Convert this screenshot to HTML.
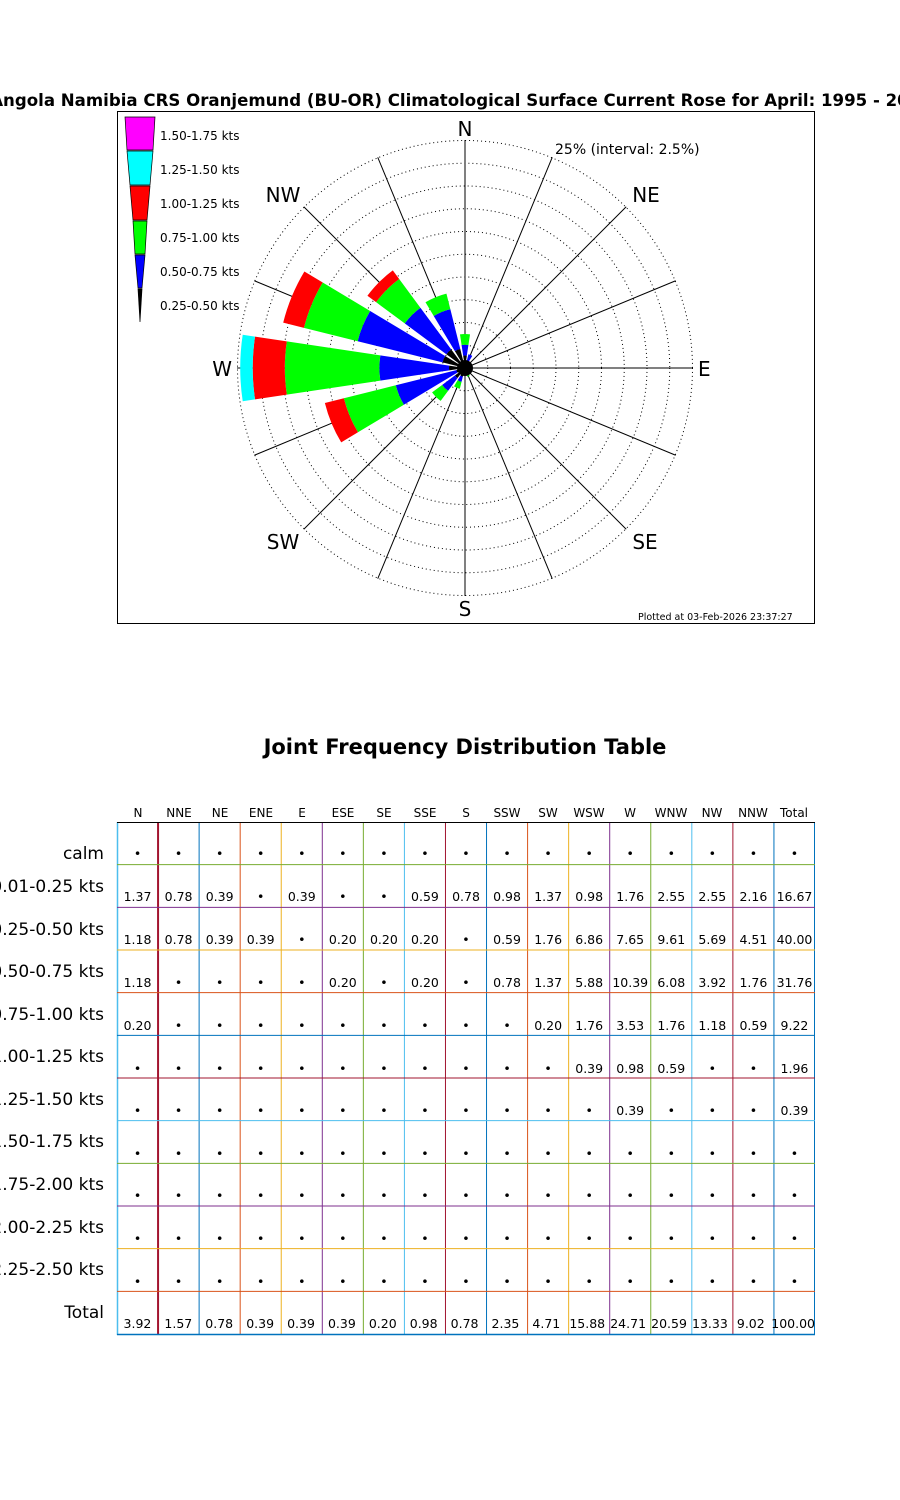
<!DOCTYPE html>
<html><head><meta charset="utf-8"><style>
html,body{margin:0;padding:0;background:#fff;width:900px;height:1500px;overflow:hidden;position:relative;font-family:"DejaVu Sans","Liberation Sans",sans-serif;}
svg{position:absolute;left:0;top:0}
.tbl{position:absolute;left:117px;top:0;width:698px}
.r{position:absolute;left:0;width:698px;height:43px;display:grid;grid-template-columns:repeat(17,1fr);font-size:12.5px;}
.r span{display:flex;align-items:flex-end;justify-content:center;padding-bottom:4px;box-sizing:border-box;height:43px}
.lab{position:absolute;right:796px;font-size:17px;white-space:nowrap;text-align:right}
</style></head><body>
<svg width="900" height="1500" id="s" xmlns="http://www.w3.org/2000/svg" font-family="DejaVu Sans, Liberation Sans, sans-serif">
<text x="461" y="106" text-anchor="middle" font-size="16.6" font-weight="bold">Angola Namibia CRS Oranjemund (BU-OR) Climatological Surface Current Rose for April: 1995 - 2025</text>
<rect x="117.5" y="111.5" width="697" height="512" fill="none" stroke="#000" stroke-width="1"/>
<g id="rings"></g>
<g id="petals"></g>
<g font-size="20">
<text x="465" y="136" text-anchor="middle">N</text>
<text x="646" y="202" text-anchor="middle">NE</text>
<text x="698" y="376">E</text>
<text x="645" y="549" text-anchor="middle">SE</text>
<text x="465" y="616" text-anchor="middle">S</text>
<text x="283" y="549" text-anchor="middle">SW</text>
<text x="232" y="376" text-anchor="end">W</text>
<text x="283" y="202" text-anchor="middle">NW</text>
</g>
<text x="555" y="154" font-size="14">25% (interval: 2.5%)</text>
<text x="638" y="620" font-size="9.5">Plotted at 03-Feb-2026 23:37:27</text>
<g stroke="#000" stroke-width="0.7">
<path d="M125,117 L155,117 L153,150 L127,150 Z" fill="#ff00ff"/>
<path d="M127,151 L153,151 L150,185 L130,185 Z" fill="#00ffff"/>
<path d="M130,186 L150,186 L147,220 L133,220 Z" fill="#ff0000"/>
<path d="M133,221 L147,221 L145,254 L135,254 Z" fill="#00ff00"/>
<path d="M135,255 L145,255 L142,288 L138,288 Z" fill="#0000ff"/>
<path d="M138,289 L142,289 L140,322 Z" fill="#000"/>
</g>
<g font-size="12">
<text x="160" y="140">1.50-1.75 kts</text>
<text x="160" y="174">1.25-1.50 kts</text>
<text x="160" y="208">1.00-1.25 kts</text>
<text x="160" y="242">0.75-1.00 kts</text>
<text x="160" y="276">0.50-0.75 kts</text>
<text x="160" y="310">0.25-0.50 kts</text>
</g>
<text x="465" y="754" text-anchor="middle" font-size="21" font-weight="bold">Joint Frequency Distribution Table</text>
<g font-size="12" text-anchor="middle" id="hdr">
<text x="138" y="817">N</text><text x="179" y="817">NNE</text><text x="220" y="817">NE</text><text x="261" y="817">ENE</text><text x="302" y="817">E</text><text x="343" y="817">ESE</text><text x="384" y="817">SE</text><text x="425" y="817">SSE</text><text x="466" y="817">S</text><text x="507" y="817">SSW</text><text x="548" y="817">SW</text><text x="589" y="817">WSW</text><text x="630" y="817">W</text><text x="671" y="817">WNW</text><text x="712" y="817">NW</text><text x="753" y="817">NNW</text><text x="794" y="817">Total</text>
</g>
<g id="grid"></g>
</svg>

<div class="lab" style="top:844px">calm</div>
<div class="lab" style="top:877px">0.01-0.25 kts</div>
<div class="lab" style="top:920px">0.25-0.50 kts</div>
<div class="lab" style="top:962px">0.50-0.75 kts</div>
<div class="lab" style="top:1005px">0.75-1.00 kts</div>
<div class="lab" style="top:1047px">1.00-1.25 kts</div>
<div class="lab" style="top:1090px">1.25-1.50 kts</div>
<div class="lab" style="top:1132px">1.50-1.75 kts</div>
<div class="lab" style="top:1175px">1.75-2.00 kts</div>
<div class="lab" style="top:1218px">2.00-2.25 kts</div>
<div class="lab" style="top:1260px">2.25-2.50 kts</div>
<div class="lab" style="top:1303px">Total</div>

<div class="tbl">
<div class="r" style="top:822px"><span>•</span><span>•</span><span>•</span><span>•</span><span>•</span><span>•</span><span>•</span><span>•</span><span>•</span><span>•</span><span>•</span><span>•</span><span>•</span><span>•</span><span>•</span><span>•</span><span>•</span></div>
<div class="r" style="top:865px"><span>1.37</span><span>0.78</span><span>0.39</span><span>•</span><span>0.39</span><span>•</span><span>•</span><span>0.59</span><span>0.78</span><span>0.98</span><span>1.37</span><span>0.98</span><span>1.76</span><span>2.55</span><span>2.55</span><span>2.16</span><span>16.67</span></div>
<div class="r" style="top:908px"><span>1.18</span><span>0.78</span><span>0.39</span><span>0.39</span><span>•</span><span>0.20</span><span>0.20</span><span>0.20</span><span>•</span><span>0.59</span><span>1.76</span><span>6.86</span><span>7.65</span><span>9.61</span><span>5.69</span><span>4.51</span><span>40.00</span></div>
<div class="r" style="top:951px"><span>1.18</span><span>•</span><span>•</span><span>•</span><span>•</span><span>0.20</span><span>•</span><span>0.20</span><span>•</span><span>0.78</span><span>1.37</span><span>5.88</span><span>10.39</span><span>6.08</span><span>3.92</span><span>1.76</span><span>31.76</span></div>
<div class="r" style="top:994px"><span>0.20</span><span>•</span><span>•</span><span>•</span><span>•</span><span>•</span><span>•</span><span>•</span><span>•</span><span>•</span><span>0.20</span><span>1.76</span><span>3.53</span><span>1.76</span><span>1.18</span><span>0.59</span><span>9.22</span></div>
<div class="r" style="top:1037px"><span>•</span><span>•</span><span>•</span><span>•</span><span>•</span><span>•</span><span>•</span><span>•</span><span>•</span><span>•</span><span>•</span><span>0.39</span><span>0.98</span><span>0.59</span><span>•</span><span>•</span><span>1.96</span></div>
<div class="r" style="top:1079px"><span>•</span><span>•</span><span>•</span><span>•</span><span>•</span><span>•</span><span>•</span><span>•</span><span>•</span><span>•</span><span>•</span><span>•</span><span>0.39</span><span>•</span><span>•</span><span>•</span><span>0.39</span></div>
<div class="r" style="top:1122px"><span>•</span><span>•</span><span>•</span><span>•</span><span>•</span><span>•</span><span>•</span><span>•</span><span>•</span><span>•</span><span>•</span><span>•</span><span>•</span><span>•</span><span>•</span><span>•</span><span>•</span></div>
<div class="r" style="top:1164px"><span>•</span><span>•</span><span>•</span><span>•</span><span>•</span><span>•</span><span>•</span><span>•</span><span>•</span><span>•</span><span>•</span><span>•</span><span>•</span><span>•</span><span>•</span><span>•</span><span>•</span></div>
<div class="r" style="top:1207px"><span>•</span><span>•</span><span>•</span><span>•</span><span>•</span><span>•</span><span>•</span><span>•</span><span>•</span><span>•</span><span>•</span><span>•</span><span>•</span><span>•</span><span>•</span><span>•</span><span>•</span></div>
<div class="r" style="top:1250px"><span>•</span><span>•</span><span>•</span><span>•</span><span>•</span><span>•</span><span>•</span><span>•</span><span>•</span><span>•</span><span>•</span><span>•</span><span>•</span><span>•</span><span>•</span><span>•</span><span>•</span></div>
<div class="r" style="top:1292px"><span>3.92</span><span>1.57</span><span>0.78</span><span>0.39</span><span>0.39</span><span>0.39</span><span>0.20</span><span>0.98</span><span>0.78</span><span>2.35</span><span>4.71</span><span>15.88</span><span>24.71</span><span>20.59</span><span>13.33</span><span>9.02</span><span>100.00</span></div>
</div>

<script>
(function(){
var NS="http://www.w3.org/2000/svg";
function el(p,t,a){var e=document.createElementNS(NS,t);for(var k in a)e.setAttribute(k,a[k]);p.appendChild(e);return e;}
var cx=465,cy=368,sc=9.1;
var rings=document.getElementById("rings");
for(var i=1;i<=10;i++)el(rings,"circle",{cx:cx,cy:cy,r:22.75*i,fill:"none",stroke:"#000","stroke-width":1,"stroke-dasharray":"1 3"});
for(var k=0;k<16;k++){var a=k*22.5*Math.PI/180;el(rings,"line",{x1:cx,y1:cy,x2:cx+228*Math.sin(a),y2:cy-228*Math.cos(a),stroke:"#000","stroke-width":1});}
var K="#000",B="#0000ff",G="#00ff00",R="#ff0000",C="#00ffff";
var data=[
[[1.37,K],[1.18,B],[1.18,G]],
[[.78,K],[.78,B]],
[[.39,K],[.39,B]],
[[.39,B]],
[[.39,K]],
[[.2,B],[.2,G]],
[[.2,B]],
[[.59,K],[.2,B],[.2,G]],
[[.78,K]],
[[.98,K],[.59,B],[.78,G]],
[[1.37,K],[1.76,B],[1.37,G]],
[[.98,K],[6.86,B],[5.88,G],[2.15,R]],
[[1.76,K],[7.65,B],[10.39,G],[3.53,R],[1.37,C]],
[[2.55,K],[9.61,B],[6.08,G],[2.35,R]],
[[2.55,K],[5.69,B],[3.92,G],[1.18,R]],
[[2.16,K],[4.51,B],[1.76,G]]];
var pg=document.getElementById("petals");var w=8.5*Math.PI/180;
function pt(r,a){return (cx+r*Math.sin(a)).toFixed(2)+","+(cy-r*Math.cos(a)).toFixed(2);}
for(var k=0;k<16;k++){var a=k*22.5*Math.PI/180,c=0;
 for(var j=0;j<data[k].length;j++){var v=data[k][j][0];var r0=c*sc,r1=(c+v)*sc;c+=v;
  var d="M"+pt(r0,a-w)+" L"+pt(r1,a-w)+" A"+r1+","+r1+" 0 0 1 "+pt(r1,a+w)+" L"+pt(r0,a+w)+(r0>0?" A"+r0+","+r0+" 0 0 0 "+pt(r0,a-w):"")+" Z";
  el(pg,"path",{d:d,fill:data[k][j][1]});}}
el(pg,"circle",{cx:cx,cy:cy,r:8,fill:"#000"});
var g=document.getElementById("grid");
var Cc=["#0072BD","#D95319","#EDB120","#7E2F8E","#77AC30","#4DBEEE","#A2142F"];
var cw=698/17;
for(var i=1;i<17;i++){var col=Cc[(i+5)%7];var x=117+cw*i;el(g,"line",{x1:x,y1:822,x2:x,y2:1335,stroke:col,"stroke-width":i==1?2:1});}
el(g,"line",{x1:117.5,y1:822,x2:117.5,y2:1335,stroke:"#4DBEEE","stroke-width":1.5});
el(g,"line",{x1:814.5,y1:822,x2:814.5,y2:1335,stroke:"#0072BD","stroke-width":1});
el(g,"line",{x1:117,y1:822.5,x2:815,y2:822.5,stroke:"#000","stroke-width":1});
el(g,"line",{x1:117,y1:1334.5,x2:815,y2:1334.5,stroke:"#0072BD","stroke-width":1.5});
var hs=["#77AC30","#7E2F8E","#EDB120","#D95319","#0072BD","#A2142F","#4DBEEE"];
for(var i=1;i<12;i++){var y=822+i*(512/12);el(g,"line",{x1:117,y1:y,x2:815,y2:y,stroke:hs[(i-1)%7],"stroke-width":1});}
})();
</script>
</body></html>
